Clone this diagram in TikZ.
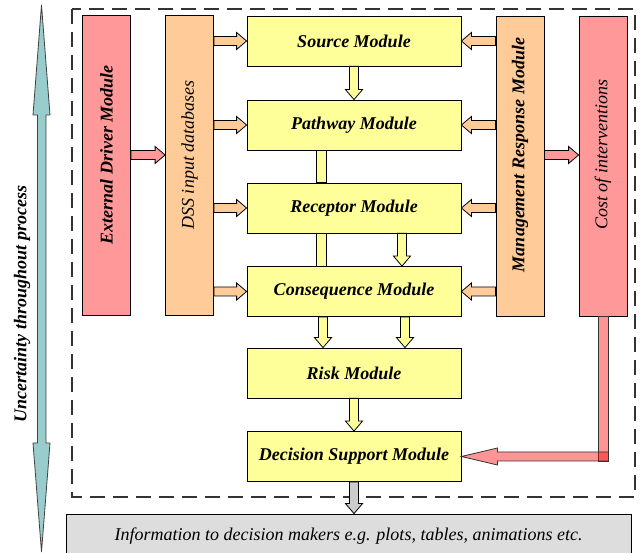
\documentclass[tikz,border=0pt]{standalone}
\usepackage{fontspec}
\setmainfont{Liberation Serif}
\usetikzlibrary{calc, positioning}

\definecolor{modyellow}{HTML}{FFFF99}
\definecolor{dbpeach}{HTML}{FFCC99}
\definecolor{drvpink}{HTML}{FF9999}
\definecolor{uncteal}{HTML}{99CCCC}
\definecolor{infogray}{HTML}{DDDDDD}

% block arrow: [head length]{style}{from}{to}
\newcommand{\blockarrow}[4][10pt]{%
  \coordinate (ba-h) at ($(#4)!#1!(#3)$);
  \draw[#2] ($(#3)!4.5pt!90:(#4)$) -- ($(ba-h)!4.5pt!-90:(#3)$)
    -- ($(ba-h)!8.5pt!-90:(#3)$) -- (#4) -- ($(ba-h)!8.5pt!90:(#3)$)
    -- ($(ba-h)!4.5pt!90:(#3)$) -- ($(#3)!4.5pt!-90:(#4)$) -- cycle;}
% block bar without a head: {style}{from}{to}
\newcommand{\blockbar}[3]{%
  \draw[#1] ($(#2)!5pt!90:(#3)$) -- ($(#3)!5pt!-90:(#2)$)
    -- ($(#3)!5pt!90:(#2)$) -- ($(#2)!5pt!-90:(#3)$) -- cycle;}

\begin{document}
\begin{tikzpicture}[x=1pt, y=-1pt,
    every node/.style={font=\fontsize{18}{20}\selectfont},
    module/.style={draw, line width=0.8pt, fill=modyellow, minimum width=214pt,
      minimum height=50pt, font=\fontsize{18}{20}\selectfont\bfseries\itshape},
    column/.style={draw, line width=0.8pt, minimum width=48pt, minimum height=300pt},
    coltext/.style={rotate=90, font=\fontsize{18}{20}\selectfont\itshape},
    yarrow/.style={draw, line width=0.8pt, fill=modyellow},
    parrow/.style={draw, line width=0.8pt, fill=dbpeach},
    rarrow/.style={draw, line width=0.8pt, fill=drvpink},
    costlink/.style={draw=black!80, line width=0.8pt, fill=red, fill opacity=0.42}]
    \useasboundingbox (0,0) rectangle (641,553);

    % outer frame
    \draw[black!80, line width=2.4pt, dash pattern=on 15pt off 8pt] (72,9) rectangle (635,497);

    % uncertainty arrow
    \draw[draw=black!75, line width=0.8pt, fill=uncteal] (41.5,5) -- (50,115) -- (46,115)
        -- (46,443) -- (50,443) -- (41.5,552) -- (33,443) -- (37.5,443) -- (37.5,115)
        -- (33,115) -- cycle;
    \node[rotate=90, font=\fontsize{18}{20}\selectfont\bfseries\itshape] (unc) at (22,304)
        {Uncertainty throughout process};

    % side columns
    \node[column, fill=drvpink] (ext) at (106.5,165.5) {};
    \node[column, fill=dbpeach] (dss) at (189.5,165.5) {};
    \node[column, fill=dbpeach] (mrm) at (520,166) {};
    \node[column, fill=drvpink] (cost) at (603,166) {};
    \node[coltext, font=\fontsize{18}{20}\selectfont\bfseries\itshape] (extlbl) at (106.5,155) {External Driver Module};
    \node[coltext] (dsslbl) at (189.5,155) {DSS input databases};
    \node[coltext, font=\fontsize{18}{20}\selectfont\bfseries\itshape] (mrmlbl) at (520,155) {Management Response Module};
    \node[coltext] (costlbl) at (603,155) {Cost of interventions};

    % modules
    \node[module] (src) at (354,41) {Source Module};
    \node[module] (path) at (354,125) {Pathway Module};
    \node[module] (rec) at (354,208) {Receptor Module};
    \node[module] (cons) at (354,291.5) {Consequence Module};
    \node[module] (risk) at (354,373) {Risk Module};
    \node[module] (dec) at (354,456.5) {Decision Support Module};

    \node[draw, line width=0.8pt, fill=infogray, minimum width=565pt, minimum height=44pt,
        font=\fontsize{18}{20}\selectfont\itshape, text depth=4pt] (info) at (348.5,536)
        {Information to decision makers e.g. plots, tables, animations etc.};

    % inputs and responses
    \blockarrow{rarrow}{ext.east |- extlbl}{dss.west |- extlbl}
    \blockarrow{rarrow}{mrm.east |- mrmlbl}{cost.west |- mrmlbl}
    \foreach \m in {src, path, rec, cons} {
        \blockarrow{parrow}{dss.east |- \m}{\m.west}
        \blockarrow{parrow}{mrm.west |- \m}{\m.east}
    }

    % flow between modules
    \blockarrow{yarrow}{src.south}{path.north}
    \blockbar{yarrow}{path.south -| 321,0}{rec.north -| 321,0}
    \blockbar{yarrow}{rec.south -| 321,0}{cons.north -| 321,0}
    \blockarrow{yarrow}{rec.south -| 402,0}{cons.north -| 402,0}
    \blockarrow{yarrow}{cons.south -| 323,0}{risk.north -| 323,0}
    \blockarrow{yarrow}{cons.south -| 405,0}{risk.north -| 405,0}
    \blockarrow{yarrow}{risk.south}{dec.north}
    \blockarrow{draw, line width=0.8pt, fill=black!20}{dec.south}{info.north -| dec.south}

    % cost of interventions back to decision support
    \coordinate (bend) at ($(cost.south |- dec)+(5.5,0)$);
    \draw[costlink] ($(cost.south)+(-5,0)$) rectangle ($(bend)+(0,4.5)$);
    \blockarrow[36pt]{costlink}{bend}{dec.east}
\end{tikzpicture}
\end{document}
